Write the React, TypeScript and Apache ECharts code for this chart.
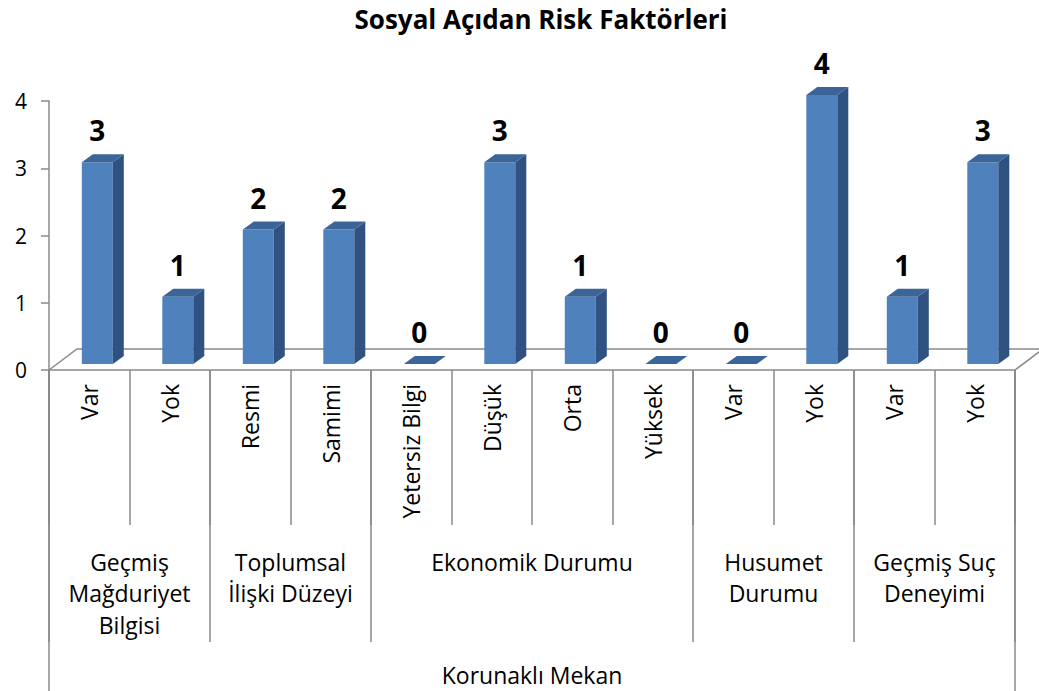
import React, { useEffect, useRef } from "react";
import * as echarts from "echarts";

const titleText = "Sosyal Açıdan Risk Faktörleri";
const categories = ["Var", "Yok", "Resmi", "Samimi", "Yetersiz Bilgi", "Düşük", "Orta", "Yüksek", "Var", "Yok", "Var", "Yok"];
const values = [3, 1, 2, 2, 0, 3, 1, 0, 0, 4, 1, 3];
const groupNames = ["Geçmiş\nMağduriyet\nBilgisi", "Toplumsal\nİlişki Düzeyi", "Ekonomik Durumu", "Husumet\nDurumu", "Geçmiş Suç\nDeneyimi"];
const groupSizes = [2, 2, 4, 2, 2];
const outerName = "Korunaklı Mekan";
const yTicks = [0, 1, 2, 3, 4];

const FONT = '"Open Sans", Lato, sans-serif';
const AXIS_COLOR = "#8a8a8a";

export default function App() {
  const ref = useRef<HTMLDivElement>(null);
  useEffect(() => {
    if (!ref.current) return;
    const chart = echarts.init(ref.current, undefined, { renderer: "svg" });

    const edges: number[] = [0];
    groupSizes.forEach((s) => edges.push(edges[edges.length - 1] + s));
    const centers = groupSizes.map((s, i) => edges[i] + s / 2);
    const total = edges[edges.length - 1];

    const option: any = {
      animation: false,
      title: {
        text: titleText,
        left: 536,
        top: 1,
        textAlign: "center",
        textStyle: { fontFamily: FONT, fontWeight: "bold", fontSize: 26, color: "#000" },
      },
      grid: { left: 49, top: 101, width: 966, height: 269, containLabel: false },
      xAxis: [
        {
          type: "category",
          data: categories,
          position: "bottom",
          axisLine: { show: true, lineStyle: { color: AXIS_COLOR, width: 1.5 } },
          axisTick: { show: true, interval: 0, length: 155, lineStyle: { color: AXIS_COLOR, width: 1.5 } },
          axisLabel: { interval: 0, rotate: 90, margin: 14, fontFamily: FONT, fontSize: 23, color: "#000", hideOverlap: false },
        },
        {
          type: "value",
          min: 0,
          max: total,
          position: "bottom",
          axisLine: { show: false },
          splitLine: { show: false },
          axisTick: { show: true, customValues: edges, length: 272, lineStyle: { color: AXIS_COLOR, width: 1.5 } },
          axisLabel: {
            show: true,
            customValues: centers,
            formatter: (v: number) => {
              const idx = centers.findIndex((c) => Math.abs(c - v) < 1e-6);
              return idx >= 0 ? groupNames[idx] : "";
            },
            margin: 176,
            fontFamily: FONT,
            fontSize: 23,
            lineHeight: 31.5,
            color: "#000",
            align: "center",
          },
        },
        {
          type: "value",
          min: 0,
          max: total,
          position: "bottom",
          axisLine: { show: false },
          splitLine: { show: false },
          axisTick: { show: true, customValues: [0, total], length: 340, lineStyle: { color: AXIS_COLOR, width: 1.5 } },
          axisLabel: {
            show: true,
            customValues: [total / 2],
            formatter: () => outerName,
            margin: 289,
            fontFamily: FONT,
            fontSize: 23,
            lineHeight: 31.5,
            color: "#000",
          },
        },
      ],
      yAxis: {
        type: "value",
        min: yTicks[0],
        max: yTicks[yTicks.length - 1],
        interval: 1,
        axisLine: { show: true, lineStyle: { color: AXIS_COLOR, width: 1.5 } },
        axisTick: { show: true, length: 8, lineStyle: { color: AXIS_COLOR, width: 1.5 } },
        splitLine: { show: false },
        axisLabel: { margin: 22, fontFamily: FONT, fontSize: 21, color: "#000" },
      },
      series: [
        {
          type: "custom",
          xAxisIndex: 0,
          yAxisIndex: 0,
          silent: true,
          clip: false,
          z: 1,
          data: [[0, 0]],
          renderItem: (params: any) => {
            const cs = params.coordSys;
            const x0 = cs.x, x1 = cs.x + cs.width, yb = cs.y + cs.height;
            const dx = 28, dy = -21;
            const style = { stroke: AXIS_COLOR, lineWidth: 1.5, fill: "none" };
            return {
              type: "group",
              children: [
                { type: "polyline", shape: { points: [[x0, yb], [x0 + dx, yb + dy], [x1 + dx, yb + dy]] }, style },
                { type: "line", shape: { x1: x1, y1: yb, x2: x1 + dx, y2: yb + dy }, style },
              ],
            };
          },
        },
        {
          type: "custom",
          xAxisIndex: 0,
          yAxisIndex: 0,
          clip: false,
          z: 5,
          data: values.map((v, i) => [i, v]),
          encode: { x: 0, y: 1 },
          renderItem: (params: any, api: any) => {
            const i = api.value(0);
            const v = api.value(1);
            const base = api.coord([i, 0]);
            const top = api.coord([i, v]);
            const cw = api.size([1, 0])[0];
            const w = cw * 0.385;
            const ox = cw * 0.1;
            const oy = -6;
            const dx = 11, dy = -8;
            const xl = base[0] + ox - w / 2;
            const xr = xl + w;
            const yb = base[1] + oy;
            const yt = top[1] + oy;
            return {
              type: "group",
              children: [
                { type: "rect", shape: { x: xl, y: yt, width: w, height: Math.max(0, yb - yt) }, style: { fill: "#4f81bd" } },
                { type: "polygon", shape: { points: [[xr, yb], [xr, yt], [xr + dx, yt + dy], [xr + dx, yb + dy]] }, style: { fill: "#2f5283" } },
                { type: "polygon", shape: { points: [[xl, yt], [xr, yt], [xr + dx, yt + dy], [xl + dx, yt + dy]] }, style: { fill: "#3b6599" } },
                {
                  type: "text",
                  x: xl + w / 2,
                  y: yt + dy - 24,
                  style: {
                    text: String(v),
                    align: "center",
                    verticalAlign: "middle",
                    fontFamily: FONT,
                    fontWeight: "bold",
                    fontSize: 28,
                    fill: "#000",
                  },
                },
              ],
            };
          },
        },
      ],
    };
    chart.setOption(option);
    return () => chart.dispose();
  }, []);

  return <div ref={ref} style={{ position: "fixed", left: 0, top: 0, width: 1039, height: 691, background: "#fff" }} />;
}
